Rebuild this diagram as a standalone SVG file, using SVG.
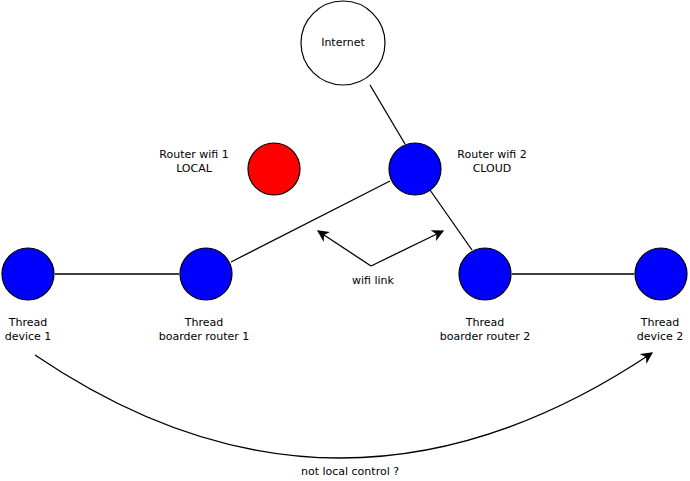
<svg xmlns="http://www.w3.org/2000/svg" width="690" height="481" viewBox="0 0 690 481">
<style>
.n{fill:#0000ff;stroke:#000;stroke-width:1.2}
.t{font-family:"DejaVu Sans",sans-serif;font-size:11px;text-anchor:middle;fill:#000}
.c{stroke:#000;stroke-width:1.3;fill:none}
</style>
<defs>
<marker id="b" viewBox="0 0 10 10" refX="9" refY="5" markerWidth="12" markerHeight="12" markerUnits="userSpaceOnUse" orient="auto"><path d="M0,0L10,5L0,10L3,5z" fill="#000"/></marker>
</defs>
<rect width="690" height="481" fill="#fff"/>
<g id="connectors">
<line class="c" x1="370" y1="85" x2="405" y2="144"/>
<line class="c" x1="55" y1="274" x2="179" y2="274"/>
<line class="c" x1="231" y1="262" x2="390" y2="181"/>
<line class="c" x1="430" y1="190" x2="472" y2="250"/>
<line class="c" x1="512" y1="274" x2="634" y2="274"/>
<line class="c" x1="371" y1="266" x2="318" y2="231" marker-end="url(#b)"/>
<line class="c" x1="371" y1="266" x2="443" y2="231" marker-end="url(#b)"/>
<path class="c" d="M35,355 Q340,562 652,353" marker-end="url(#b)"/>
</g>
<g id="internet"><circle cx="343" cy="43" r="42" fill="#fff" stroke="#000" stroke-width="1.2"/><text class="t" x="343" y="46">Internet</text></g>
<g id="router1"><circle cx="274" cy="169" r="26" fill="#ff0000" stroke="#000" stroke-width="1.2"/><text class="t" x="194" y="158">Router wifi 1</text><text class="t" x="194" y="172">LOCAL</text></g>
<g id="router2"><circle class="n" cx="415" cy="169" r="26"/><text class="t" x="492" y="158">Router wifi 2</text><text class="t" x="492" y="172">CLOUD</text></g>
<g id="device1"><circle class="n" cx="28" cy="274" r="26"/><text class="t" x="28" y="326">Thread</text><text class="t" x="28" y="340">device 1</text></g>
<g id="br1"><circle class="n" cx="206" cy="274" r="26"/><text class="t" x="204" y="326">Thread</text><text class="t" x="204" y="340">boarder router 1</text></g>
<g id="br2"><circle class="n" cx="485" cy="274" r="26"/><text class="t" x="485" y="326">Thread</text><text class="t" x="485" y="340">boarder router 2</text></g>
<g id="device2"><circle class="n" cx="661" cy="274" r="26"/><text class="t" x="660" y="326">Thread</text><text class="t" x="660" y="340">device 2</text></g>
<text class="t" x="373" y="284">wifi link</text>
<text class="t" x="350" y="475">not local control ?</text>
</svg>
